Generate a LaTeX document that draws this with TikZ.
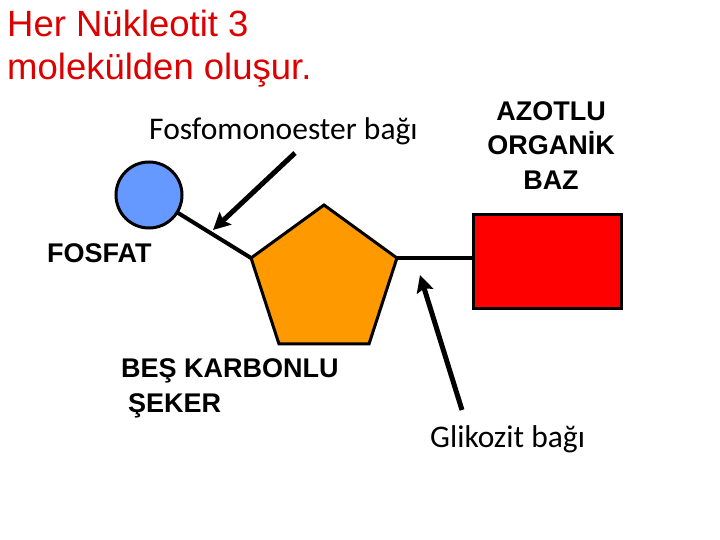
\documentclass[tikz,border=0pt]{standalone}
\usepackage{fontspec}
\setmainfont{Liberation Sans}
\newfontfamily\calfont{Carlito}
\usetikzlibrary{arrows.meta}
\usetikzlibrary{shapes.geometric}

\definecolor{titlered}{RGB}{220,0,0}
\definecolor{fosfatblue}{RGB}{102,153,255}
\definecolor{sekerorange}{RGB}{255,153,0}
\definecolor{bazred}{RGB}{255,0,0}

\tikzset{
    part/.style={draw=black, line width=3pt, inner sep=0pt, outer sep=0pt},
    bond/.style={black, line width=4pt},
    pointer/.style={black, line width=5pt, -{Stealth[length=17pt,width=17pt,inset=3pt]}},
    lab/.style={inner sep=0pt, font=\bfseries\fontsize{27}{34.5}\selectfont},
    note/.style={inner sep=0pt, font=\calfont\fontsize{31.5}{38}\selectfont}
}

\begin{document}
\begin{tikzpicture}[x=1pt, y=-1pt]
    \useasboundingbox (0,0) rectangle (720,540);
    \pgfmathsetmacro{\R}{76.7}  % outer radius of the sugar, in points

    % title
    \node[anchor=base west, inner sep=0pt, text=titlered, font=\fontsize{36.5}{43}\selectfont] (title1) at (7,37) {Her Nükleotit 3};
    \node[anchor=base west, inner sep=0pt, text=titlered, font=\fontsize{36.5}{43}\selectfont] (title2) at (7,80) {molekülden oluşur.};

    % the three parts
    \node[part, circle, fill=fosfatblue, minimum size=66pt] (fosfat) at (149,195) {};
    \node[part, regular polygon, regular polygon sides=5, fill=sekerorange, minimum size=2*\R pt] (seker) at (324,281.7) {};
    \node[part, rectangle, fill=bazred, minimum width=148pt, minimum height=93pt] (baz) at (547,261.5) {};

    % bonds
    \draw[bond] (fosfat) -- (seker.corner 2);
    \draw[bond, line width=3.5pt] (seker.corner 5) -- (seker.corner 5 -| baz.west);

    % labels
    \node[lab, anchor=base west] (fosfatlab) at (47,262) {FOSFAT};
    \node[lab, anchor=north west, align=left] (sekerlab) at (121,358.7) {BEŞ KARBONLU\\\hspace{7pt}ŞEKER};
    \node[lab, anchor=north, align=center, font=\bfseries\fontsize{27}{34.5}\selectfont] (bazlab) at (551,101) {AZOTLU\\ORGANİK\\BAZ};
    \node[note, anchor=base west] (esterlab) at (149,140) {Fosfomonoester bağı};
    \node[note, anchor=base west] (glikolab) at (430,447) {Glikozit bağı};

    % arrows pointing at the bonds
    \coordinate (esterfrom) at (295,153);
    \coordinate (esterto) at (213,230);
    \coordinate (glikofrom) at (462,410);
    \coordinate (glikoto) at (420,275);
    \draw[pointer] (esterfrom) -- (esterto);
    \draw[pointer] (glikofrom) -- (glikoto);
\end{tikzpicture}
\end{document}
